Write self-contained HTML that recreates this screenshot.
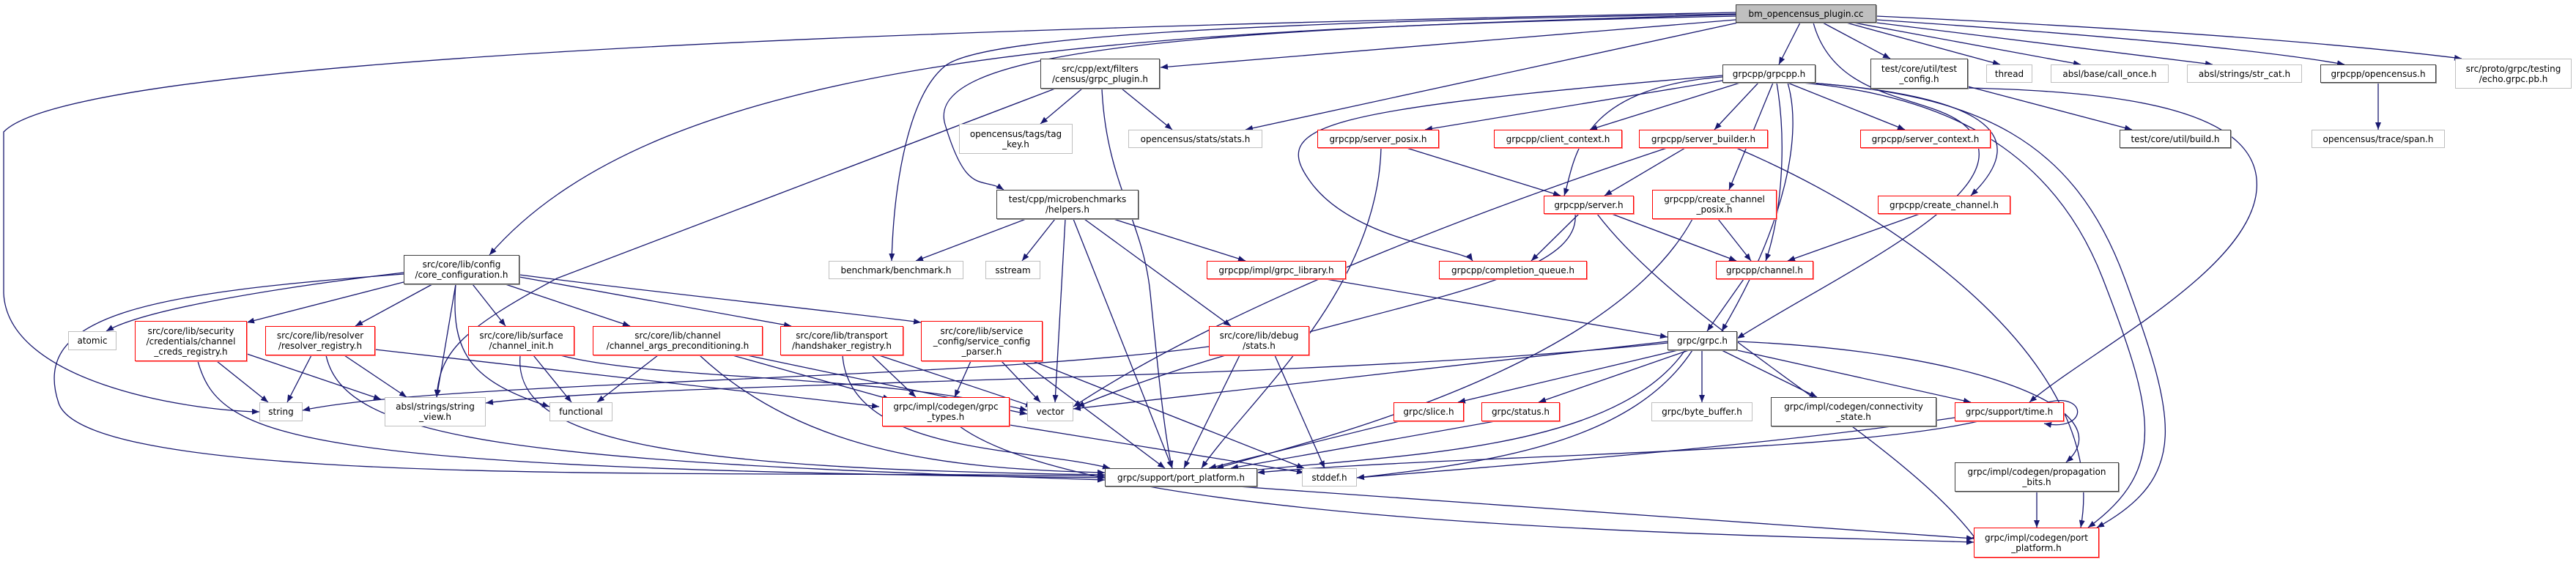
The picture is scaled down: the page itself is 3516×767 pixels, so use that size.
<!DOCTYPE html>
<html><head><meta charset="utf-8"><style>
html,body{margin:0;padding:0;background:#fff;}
#c{position:relative;width:3516px;height:767px;overflow:hidden;}
svg{position:absolute;left:0;top:0;}
.n{position:absolute;box-sizing:border-box;background:#fff;font-family:"DejaVu Sans","Liberation Sans",sans-serif;font-size:12px;line-height:14px;color:#000;text-align:center;display:flex;align-items:center;justify-content:center;white-space:nowrap;}
.b{border:1.5px solid #404040;box-shadow:1px 1px 0 #999;}
.g{border:1.5px solid #bfbfbf;}
.r{border:1.5px solid #ff0000;box-shadow:1px 1px 0 #f88;}
</style></head><body><div id="c">
<svg width="3516" height="767" viewBox="0 0 3516 767">
<defs><marker id="a" viewBox="0 0 10 8" refX="10" refY="4" markerWidth="10" markerHeight="8" markerUnits="userSpaceOnUse" orient="auto"><path d="M0,0 L10,4 L0,8 z" fill="#191970"/></marker></defs>
<g fill="none" stroke="#191970" stroke-width="1.3" marker-end="url(#a)">
<path d="M2369,27 C2000,60 1700,80 1584,92"/>
<path d="M2457,31 L2428,88"/>
<path d="M2488,31 L2580,80"/>
<path d="M2520,31 L2730,88"/>
<path d="M2530,31 L2840,88"/>
<path d="M2545,29 L3020,88"/>
<path d="M2561,27 C2900,50 3100,70 3200,88"/>
<path d="M2561,22 C2950,40 3200,60 3360,80"/>
<path d="M2369,22 C1500,40 900,80 668,348"/>
<path d="M2369,20 C1600,40 1260,70 1290,170 S1340,240 1370,259"/>
<path d="M2369,19 C1700,30 1340,50 1290,90 S1220,250 1217,356"/>
<path d="M2369,17 C1200,40 100,80 5,180 L5,400 C10,520 250,560 354,562"/>
<path d="M2372,31 L1700,177"/>
<path d="M2475,31 C2510,160 2680,120 2700,200 S2500,380 2371,462"/>
<path d="M1477,121 L1420,169"/>
<path d="M1531,121 L1600,177"/>
<path d="M1440,121 L760,380 C630,450 600,480 596,542"/>
<path d="M1504,121 C1510,250 1560,300 1570,400 S1590,600 1600,639"/>
<path d="M2351,110 L1945,177"/>
<path d="M2375,113 L2170,177"/>
<path d="M2400,113 L2340,177"/>
<path d="M2440,113 L2600,177"/>
<path d="M2351,105 C2150,120 2150,220 2135,267"/>
<path d="M2351,103 C1800,150 1730,170 1790,250 S2000,340 2010,356"/>
<path d="M2420,113 L2360,259"/>
<path d="M2470,113 C2700,130 2780,180 2690,267"/>
<path d="M2425,113 C2440,200 2430,300 2410,356"/>
<path d="M2440,113 C2460,180 2440,300 2350,452"/>
<path d="M2686,118 L2910,177"/>
<path d="M2686,120 C2900,125 3090,150 3080,260 S2850,480 2770,549"/>
<path d="M2460,113 C2650,130 2800,200 2870,380 S2960,640 2850,720"/>
<path d="M2470,113 C2700,130 2830,190 2900,380 S2990,650 2862,720"/>
<path d="M3246,113 L3246,177"/>
<path d="M1400,299 L1250,356"/>
<path d="M1440,299 L1395,356"/>
<path d="M1520,299 L1700,356"/>
<path d="M1454,299 L1440,549"/>
<path d="M1465,299 L1600,639"/>
<path d="M1480,299 L1680,445"/>
<path d="M551,372 C400,390 200,420 145,452"/>
<path d="M551,385 L337,440"/>
<path d="M590,388 L485,445"/>
<path d="M645,388 L690,445"/>
<path d="M690,388 L860,445"/>
<path d="M709,378 L1080,445"/>
<path d="M709,375 C900,400 1100,420 1257,440"/>
<path d="M622,388 L596,542"/>
<path d="M622,388 C615,480 640,520 750,555"/>
<path d="M551,374 C200,400 40,430 80,550 S1000,640 1508,650"/>
<path d="M296,493 L366,549"/>
<path d="M337,483 L520,545"/>
<path d="M270,493 C300,600 400,640 1508,652"/>
<path d="M425,485 L392,549"/>
<path d="M470,485 L555,542"/>
<path d="M445,485 C470,600 700,630 1508,655"/>
<path d="M512,477 L1200,555"/>
<path d="M728,485 L780,549"/>
<path d="M710,485 C700,600 900,640 1508,648"/>
<path d="M765,485 C900,520 1200,510 1402,560"/>
<path d="M898,485 L815,549"/>
<path d="M1000,485 L1215,545"/>
<path d="M955,485 C1100,620 1300,640 1508,645"/>
<path d="M1020,485 L1402,565"/>
<path d="M1190,485 L1250,542"/>
<path d="M1150,485 C1160,620 1400,610 1515,639"/>
<path d="M1200,485 L1410,555"/>
<path d="M1325,493 L1303,542"/>
<path d="M1367,493 L1420,549"/>
<path d="M1395,493 L1590,639"/>
<path d="M1410,493 L1780,639"/>
<path d="M1650,473 C1300,520 600,520 413,560"/>
<path d="M1692,485 L1616,639"/>
<path d="M1740,485 L1808,639"/>
<path d="M1810,381 L2276,460"/>
<path d="M1920,202 L2130,267"/>
<path d="M1885,202 C1880,400 1700,550 1640,639"/>
<path d="M2300,202 L2190,267"/>
<path d="M2275,202 C2100,260 1700,400 1465,555"/>
<path d="M2370,202 C2600,300 2880,500 2840,720"/>
<path d="M2155,292 L2090,356"/>
<path d="M2200,292 L2370,356"/>
<path d="M2150,292 C2160,400 1800,420 1470,555"/>
<path d="M2180,292 C2300,450 2600,600 2700,740"/>
<path d="M2345,299 L2390,356"/>
<path d="M2310,299 C2200,500 1800,600 1660,639"/>
<path d="M2620,292 L2440,356"/>
<path d="M2380,381 L2330,452"/>
<path d="M2276,466 L1465,558"/>
<path d="M2290,478 L1990,549"/>
<path d="M2305,478 L2100,549"/>
<path d="M2323,478 L2323,549"/>
<path d="M2350,478 L2480,542"/>
<path d="M2371,478 L2690,549"/>
<path d="M2300,478 C2200,620 1900,620 1680,645"/>
<path d="M2310,478 C2230,600 2050,630 1852,652"/>
<path d="M2371,466 C2700,480 2900,560 2820,631"/>
<path d="M2276,468 C1800,520 900,520 663,550"/>
<path d="M1910,575 L1650,639"/>
<path d="M2040,575 L1680,639"/>
<path d="M2795,549 C2850,535 2850,590 2790,578"/>
<path d="M2700,575 C2500,620 2000,620 1716,645"/>
<path d="M2668,570 C2400,610 2000,640 1852,652"/>
<path d="M1378,580 L1780,645"/>
<path d="M1310,582 C1500,720 2400,730 2694,740"/>
<path d="M1690,664 L2694,735"/>
<path d="M2780,671 L2780,720"/>
</g></svg>

<div class="n b" style="left:2369px;top:6px;width:192px;height:25px;background:#bfbfbf">bm_opencensus_plugin.cc</div>
<div class="n b" style="left:1420px;top:80px;width:163px;height:41px">src/cpp/ext/filters<br>/census/grpc_plugin.h</div>
<div class="n b" style="left:2351px;top:88px;width:127px;height:25px">grpcpp/grpcpp.h</div>
<div class="n b" style="left:2553px;top:80px;width:133px;height:41px">test/core/util/test<br>_config.h</div>
<div class="n g" style="left:2711px;top:88px;width:63px;height:25px">thread</div>
<div class="n g" style="left:2799px;top:88px;width:161px;height:25px">absl/base/call_once.h</div>
<div class="n g" style="left:2985px;top:88px;width:157px;height:25px">absl/strings/str_cat.h</div>
<div class="n b" style="left:3167px;top:88px;width:158px;height:25px">grpcpp/opencensus.h</div>
<div class="n g" style="left:3351px;top:80px;width:159px;height:41px">src/proto/grpc/testing<br>/echo.grpc.pb.h</div>
<div class="n g" style="left:1309px;top:169px;width:155px;height:41px">opencensus/tags/tag<br>_key.h</div>
<div class="n g" style="left:1540px;top:177px;width:183px;height:25px">opencensus/stats/stats.h</div>
<div class="n r" style="left:1798px;top:177px;width:166px;height:25px">grpcpp/server_posix.h</div>
<div class="n r" style="left:2039px;top:177px;width:175px;height:25px">grpcpp/client_context.h</div>
<div class="n r" style="left:2237px;top:177px;width:176px;height:25px">grpcpp/server_builder.h</div>
<div class="n r" style="left:2539px;top:177px;width:178px;height:25px">grpcpp/server_context.h</div>
<div class="n b" style="left:2893px;top:177px;width:152px;height:25px">test/core/util/build.h</div>
<div class="n g" style="left:3155px;top:177px;width:182px;height:25px">opencensus/trace/span.h</div>
<div class="n b" style="left:1360px;top:259px;width:194px;height:40px">test/cpp/microbenchmarks<br>/helpers.h</div>
<div class="n r" style="left:2107px;top:267px;width:123px;height:25px">grpcpp/server.h</div>
<div class="n r" style="left:2255px;top:259px;width:170px;height:40px">grpcpp/create_channel<br>_posix.h</div>
<div class="n r" style="left:2563px;top:267px;width:181px;height:25px">grpcpp/create_channel.h</div>
<div class="n b" style="left:551px;top:348px;width:158px;height:40px">src/core/lib/config<br>/core_configuration.h</div>
<div class="n g" style="left:1131px;top:356px;width:184px;height:25px">benchmark/benchmark.h</div>
<div class="n g" style="left:1345px;top:356px;width:75px;height:25px">sstream</div>
<div class="n r" style="left:1647px;top:356px;width:190px;height:25px">grpcpp/impl/grpc_library.h</div>
<div class="n r" style="left:1964px;top:356px;width:202px;height:25px">grpcpp/completion_queue.h</div>
<div class="n r" style="left:2342px;top:356px;width:133px;height:25px">grpcpp/channel.h</div>
<div class="n g" style="left:93px;top:452px;width:66px;height:26px">atomic</div>
<div class="n r" style="left:184px;top:438px;width:153px;height:55px">src/core/lib/security<br>/credentials/channel<br>_creds_registry.h</div>
<div class="n r" style="left:362px;top:445px;width:150px;height:40px">src/core/lib/resolver<br>/resolver_registry.h</div>
<div class="n r" style="left:639px;top:445px;width:145px;height:40px">src/core/lib/surface<br>/channel_init.h</div>
<div class="n r" style="left:809px;top:445px;width:232px;height:40px">src/core/lib/channel<br>/channel_args_preconditioning.h</div>
<div class="n r" style="left:1065px;top:445px;width:168px;height:40px">src/core/lib/transport<br>/handshaker_registry.h</div>
<div class="n r" style="left:1257px;top:438px;width:166px;height:55px">src/core/lib/service<br>_config/service_config<br>_parser.h</div>
<div class="n r" style="left:1650px;top:445px;width:137px;height:40px">src/core/lib/debug<br>/stats.h</div>
<div class="n b" style="left:2276px;top:452px;width:95px;height:26px">grpc/grpc.h</div>
<div class="n g" style="left:354px;top:549px;width:59px;height:26px">string</div>
<div class="n g" style="left:525px;top:542px;width:138px;height:40px">absl/strings/string<br>_view.h</div>
<div class="n g" style="left:750px;top:549px;width:86px;height:26px">functional</div>
<div class="n r" style="left:1204px;top:542px;width:174px;height:40px">grpc/impl/codegen/grpc<br>_types.h</div>
<div class="n g" style="left:1402px;top:549px;width:63px;height:26px">vector</div>
<div class="n r" style="left:1902px;top:549px;width:96px;height:26px">grpc/slice.h</div>
<div class="n r" style="left:2022px;top:549px;width:107px;height:26px">grpc/status.h</div>
<div class="n g" style="left:2254px;top:549px;width:138px;height:26px">grpc/byte_buffer.h</div>
<div class="n b" style="left:2417px;top:542px;width:226px;height:40px">grpc/impl/codegen/connectivity<br>_state.h</div>
<div class="n r" style="left:2668px;top:549px;width:149px;height:26px">grpc/support/time.h</div>
<div class="n b" style="left:1508px;top:639px;width:208px;height:25px">grpc/support/port_platform.h</div>
<div class="n g" style="left:1777px;top:639px;width:75px;height:25px">stddef.h</div>
<div class="n b" style="left:2668px;top:631px;width:224px;height:40px">grpc/impl/codegen/propagation<br>_bits.h</div>
<div class="n r" style="left:2694px;top:720px;width:171px;height:41px">grpc/impl/codegen/port<br>_platform.h</div>
</div></body></html>
